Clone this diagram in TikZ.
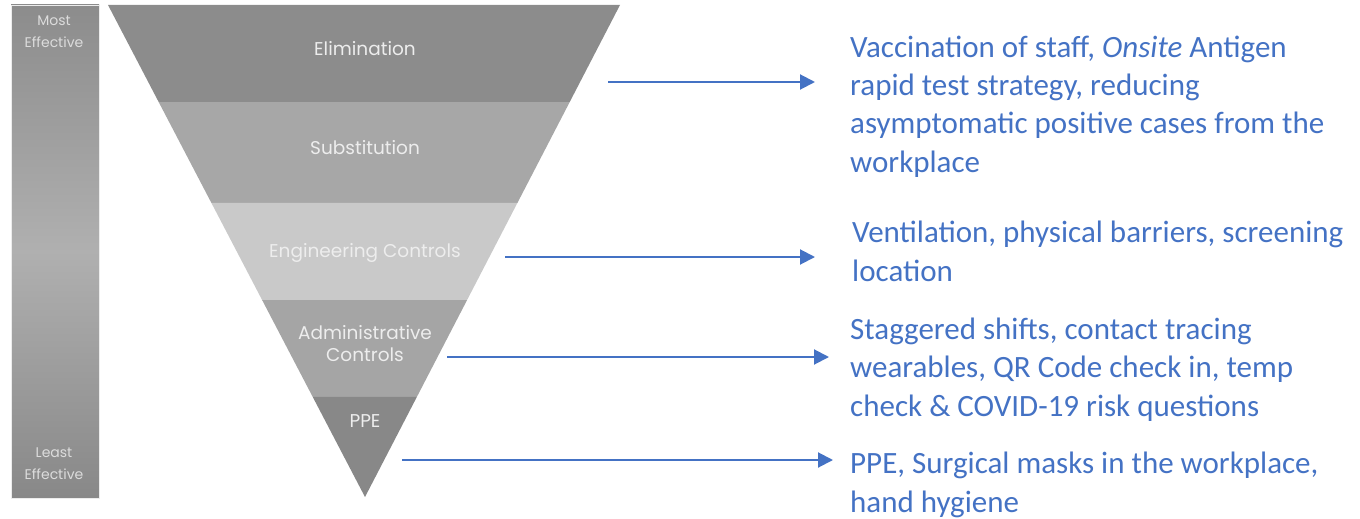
\documentclass[tikz,border=0pt]{standalone}
\usepackage{fontspec}
\setmainfont{Carlito}
\newfontfamily\lblfont{Poppins}
\usetikzlibrary{arrows.meta,calc}
\definecolor{arrowblue}{HTML}{4472C4}
\definecolor{bandA}{HTML}{8C8C8C}
\definecolor{bandB}{HTML}{A7A7A7}
\definecolor{bandC}{HTML}{C9C9C9}
\definecolor{bandD}{HTML}{A5A5A5}
\definecolor{bandE}{HTML}{888888}
\definecolor{lbltext}{HTML}{EDEDED}
\definecolor{bartext}{HTML}{DCDCDC}
\tikzset{
  px/.style={x=1pt,y=-1pt},
  bandlabel/.style={font=\lblfont\fontsize{18.5}{22}\selectfont, text=lbltext, align=center, inner sep=0pt},
  barlabel/.style={font=\lblfont\fontsize{14}{22}\selectfont, text=bartext, align=center, inner sep=0pt},
  desc/.style={font=\fontsize{31}{38.3}\selectfont, text=arrowblue, align=left, anchor=base west, inner sep=0pt},
  conn/.style={draw=arrowblue, line width=2pt, -{Triangle[length=15pt,width=15pt]}},
}
\begin{document}
\begin{tikzpicture}[px]
\useasboundingbox (0,0) rectangle (1360,519);
% effectiveness bar
\shade[top color=bandA, bottom color=bandE, middle color=bandB!90!white] (11,5) rectangle (99,498);
\draw[white!85!gray, line width=0.8pt] (11,5) rectangle (99,498);
\node[barlabel] (most) at (54,32) {Most\\Effective};
\node[barlabel] (least) at (54,464) {Least\\Effective};
% triangle
\coordinate (TL) at (108,5);
\coordinate (TR) at (620,5);
\coordinate (AP) at (365,497);
\coordinate (L1) at ($(TL)!0.1972!(AP)$); \coordinate (R1) at ($(TR)!0.1972!(AP)$);
\coordinate (L2) at ($(TL)!0.4024!(AP)$); \coordinate (R2) at ($(TR)!0.4024!(AP)$);
\coordinate (L3) at ($(TL)!0.5996!(AP)$); \coordinate (R3) at ($(TR)!0.5996!(AP)$);
\coordinate (L4) at ($(TL)!0.7967!(AP)$); \coordinate (R4) at ($(TR)!0.7967!(AP)$);
\fill[bandA] (TL) -- (TR) -- (R1) -- (L1) -- cycle;
\fill[bandB] (L1) -- (R1) -- (R2) -- (L2) -- cycle;
\fill[bandC] (L2) -- (R2) -- (R3) -- (L3) -- cycle;
\fill[bandD] (L3) -- (R3) -- (R4) -- (L4) -- cycle;
\fill[bandE] (L4) -- (R4) -- (AP) -- cycle;
\node[bandlabel] (elim) at (365,49) {Elimination};
\node[bandlabel] (subs) at (365,148) {Substitution};
\node[bandlabel] (eng) at (365,253) {Engineering Controls};
\node[bandlabel] (adm) at (365,344) {Administrative\\Controls};
\node[bandlabel] (ppe) at (365,421) {PPE};
% descriptions (base = baseline of last line)
\node[desc] (d1) at (850,172) {Vaccination of staff, \textit{Onsite} Antigen\\rapid test strategy, reducing\\asymptomatic positive cases from the\\workplace};
\node[desc] (d2) at (852,281) {Ventilation, physical barriers, screening\\location};
\node[desc] (d3) at (850,416) {Staggered shifts, contact tracing\\wearables, QR Code check in, temp\\check \& COVID-19 risk questions};
\node[desc] (d4) at (850,512) {PPE, Surgical masks in the workplace,\\hand hygiene};
% connectors
\coordinate (s1) at (608,82);  \coordinate (e1) at (815,82);
\coordinate (s2) at (505,257); \coordinate (e2) at (815,257);
\coordinate (s3) at (447,357); \coordinate (e3) at (829,357);
\coordinate (s4) at (402,460); \coordinate (e4) at (833,460);
\draw[conn] (s1) -- (e1);
\draw[conn] (s2) -- (e2);
\draw[conn] (s3) -- (e3);
\draw[conn] (s4) -- (e4);
\end{tikzpicture}
\end{document}
